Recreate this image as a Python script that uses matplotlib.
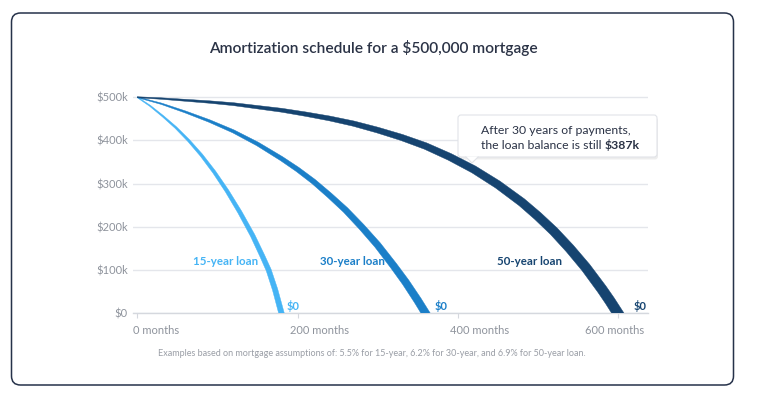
import matplotlib
matplotlib.use("Agg")
import matplotlib.pyplot as plt
import numpy as np
from matplotlib.patches import FancyBboxPatch, Polygon
from matplotlib.transforms import ScaledTranslation

plt.rcParams["font.family"] = ["Lato", "DejaVu Sans"]

# remaining balance ($k) by month elapsed
months_15 = [0, 16, 32, 48, 64, 80, 96, 112, 128, 144, 156, 164, 172, 180]
balance_15 = [500, 480, 456, 430, 400, 366, 327, 283, 234, 180, 133, 100, 55, 0]

months_30 = [0, 30, 60, 90, 120, 150, 180, 200, 220, 240, 260, 280, 300, 320, 335, 350, 360]
balance_30 = [500, 485, 466, 445, 421, 392, 358, 333, 305, 273, 239, 200, 158, 110, 72, 30, 0]

months_50 = [0, 30, 60, 90, 120, 150, 180, 210, 240, 270, 300, 330, 360, 390, 420,
             450, 480, 500, 520, 540, 560, 580, 590, 600]
balance_50 = [500, 497, 493, 489, 484, 477, 470, 461, 451, 439, 424, 407, 387, 362, 333,
              298, 257, 225, 190, 150, 106, 56, 29, 0]

loan_labels = ["15-year loan", "30-year loan", "50-year loan"]
x_ticks = [0, 200, 400, 600]
x_tick_labels = ["0 months", "200 months", "400 months", "600 months"]
y_ticks = [0, 100, 200, 300, 400, 500]
y_tick_labels = ["$0", "$100k", "$200k", "$300k", "$400k", "$500k"]

C15, C30, C50 = "#45B4F5", "#1B7FC8", "#164470"
GREY_TXT = "#8E939C"
NAVY_TXT = "#2B3346"
PX = 0.72  # points per pixel at dpi 100


def tapered(ax, x, y, color, w0, w1):
    """Filled ribbon along (x, y) whose pixel width grows with elapsed months."""
    x = np.asarray(x, float)
    y = np.asarray(y, float)
    disp = ax.transData.transform(np.column_stack([x, y]))
    tang = np.gradient(disp, axis=0)
    tang /= np.linalg.norm(tang, axis=1)[:, None]
    norm = np.column_stack([-tang[:, 1], tang[:, 0]])
    half = (w0 + (w1 - w0) * x / x[-1]) / 2
    # push the last point a bit below $0 so the clip gives a flat end
    disp[-1] += tang[-1] * half[-1]
    left = disp + norm * half[:, None]
    right = disp - norm * half[:, None]
    outline = np.vstack([left, right[::-1]])
    data = ax.transData.inverted().transform(outline)
    ax.add_patch(Polygon(data, closed=True, facecolor=color, edgecolor=color,
                         linewidth=0.3, zorder=3))


fig = plt.figure(figsize=(7.6, 3.98), dpi=100)
fig.patch.set_facecolor("white")

# outer rounded card
fig.add_artist(FancyBboxPatch(
    (0.115, 0.13), 7.22, 3.72, boxstyle="round,pad=0,rounding_size=0.09",
    transform=fig.dpi_scale_trans, fill=False, edgecolor="#26324A", linewidth=1.1))

fig.text(373 / 760, 1 - 48 / 398, "Amortization schedule for a $500,000 mortgage",
         ha="center", va="center", fontsize=11.2, color=NAVY_TXT, fontweight="semibold")

ax = fig.add_axes([133 / 760, 1 - 313.3 / 398, 515 / 760, (313.3 - 95.1) / 398])
ax.set_xlim(-5.4, 637.6)
ax.set_ylim(0, 505)

for s in ("top", "right", "left"):
    ax.spines[s].set_visible(False)
ax.spines["bottom"].set_color("#D5D8DE")
ax.spines["bottom"].set_linewidth(1.0)

ax.set_yticks(y_ticks)
ax.set_yticklabels(y_tick_labels)
ax.yaxis.grid(True, color="#E4E6EB", linewidth=1.0)
ax.set_axisbelow(True)
ax.tick_params(axis="y", length=0, pad=3.6, labelsize=8, labelcolor=GREY_TXT)

ax.set_xticks(x_ticks)
ax.set_xticklabels(x_tick_labels)
ax.tick_params(axis="x", length=3.6, width=0.8, color="#D5D8DE", pad=4.5,
               labelsize=8, labelcolor=GREY_TXT)
# numbers sit over the tick; last label kept inside the plot
shifts = [-4, -8, -8, -33]
for lab, dx in zip(ax.get_xticklabels(), shifts):
    lab.set_ha("left")
    lab.set_transform(lab.get_transform() + ScaledTranslation(dx / 100, 0, fig.dpi_scale_trans))

tapered(ax, months_15, balance_15, C15, 0.8, 5.5)
tapered(ax, months_30, balance_30, C30, 0.8, 8.0)
tapered(ax, months_50, balance_50, C50, 1.0, 10.5)

label_x = [110, 269, 490]
for lx, txt, c in zip(label_x, loan_labels, [C15, C30, C50]):
    ax.text(lx, 119, txt, ha="center", va="center", fontsize=8.3, color=c,
            fontweight="bold")

ends = [months_15[-1], months_30[-1], months_50[-1]]
end_off = [5, 9, 16]
for ex, off, c in zip(ends, end_off, [C15, C30, C50]):
    ax.annotate("$0", xy=(ex, 0), xytext=(off * PX, 7 * PX), textcoords="offset points",
                ha="left", va="center", fontsize=8, color=c, fontweight="bold")

# callout box
bx0, bx1, by0, by1 = 4.58, 6.57, 2.41, 2.83
fig.add_artist(FancyBboxPatch(
    (bx0 + 0.01, by0 - 0.025), bx1 - bx0, by1 - by0, boxstyle="round,pad=0,rounding_size=0.03",
    transform=fig.dpi_scale_trans, facecolor="#000000", alpha=0.07, edgecolor="none"))
fig.add_artist(FancyBboxPatch(
    (bx0, by0), bx1 - bx0, by1 - by0, boxstyle="round,pad=0,rounding_size=0.03",
    transform=fig.dpi_scale_trans, facecolor="white", edgecolor="#E1E3E8", linewidth=0.8))
fig.add_artist(Polygon([(4.655, by0 + 0.005), (4.72, by0 - 0.06), (4.785, by0 + 0.005)],
                       closed=False, transform=fig.dpi_scale_trans, facecolor="white",
                       edgecolor="#E1E3E8", linewidth=0.8))

fig.text(4.81 / 7.6, 1 - 130.3 / 398, "After 30 years of payments,", ha="left", va="center",
         fontsize=8.8, color=NAVY_TXT)
t2 = fig.text(4.81 / 7.6, 1 - 145.5 / 398, "the loan balance is still ", ha="left", va="center",
              fontsize=8.8, color=NAVY_TXT)
fig.canvas.draw()
bb = t2.get_window_extent()
fig.text(bb.x1 / fig.bbox.width, 1 - 145.5 / 398, "$387k", ha="left", va="center",
         fontsize=8.8, color=NAVY_TXT, fontweight="bold")

fig.text(372 / 760, 1 - 353 / 398,
         "Examples based on mortgage assumptions of: 5.5% for 15-year, 6.2% for 30-year, "
         "and 6.9% for 50-year loan.",
         ha="center", va="center", fontsize=6.5, color="#9A9EA6")

fig.savefig("out.png", dpi=100, facecolor="white")
